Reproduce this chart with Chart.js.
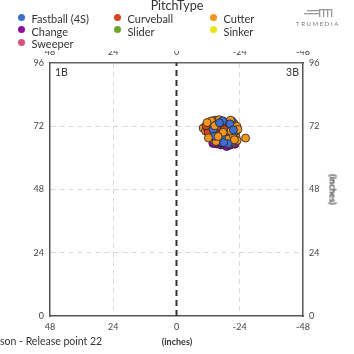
<!DOCTYPE html>
<html>
<head>
<meta charset="utf-8">
<script src="https://cdn.jsdelivr.net/npm/chart.js@4"></script>
<style>
  html, body { margin:0; padding:0; background:#fff; width:354px; height:354px; overflow:hidden; }
  body { position:relative; font-family: Lato, "Open Sans", sans-serif; color:#333; }
  #c { position:absolute; left:0; top:0; }
  .abs { position:absolute; white-space:nowrap; }
  .leg { position:absolute; font-size:11px; line-height:13px; color:#333; white-space:nowrap; }
  .dot { position:absolute; width:7px; height:7px; border-radius:50%; }
</style>
</head>
<body>
<canvas id="c" width="354" height="354"></canvas>
<div id="legend"></div>
<div class="abs" style="left:0;top:-2px;width:354px;text-align:center;font-size:12.5px;line-height:15px;color:#333;">PitchType</div>
<svg class="abs" style="left:304px;top:8px" width="30" height="10" viewBox="0 0 30 10">
  <rect x="3" y="2" width="12" height="1.3" fill="#999"/>
  <rect x="0" y="5" width="15" height="1.3" fill="#999"/>
  <rect x="15" y="1" width="13" height="1.3" fill="#999"/>
  <rect x="15" y="1" width="1.3" height="8" fill="#999"/>
  <rect x="19" y="1" width="1.3" height="8" fill="#999"/>
  <rect x="23" y="1" width="1.3" height="8" fill="#999"/>
  <rect x="27" y="1" width="1.3" height="8" fill="#999"/>
</svg>
<div class="abs" style="left:296px;top:20px;font-size:6px;line-height:8px;letter-spacing:1.6px;color:#777;">TRUMEDIA</div>
<div class="abs" style="left:55px;top:66px;font-size:10.5px;line-height:12px;color:#333;">1B</div>
<div class="abs" style="left:260px;top:66px;width:39px;text-align:right;font-size:10.5px;line-height:12px;color:#333;">3B</div>
<div class="abs" style="left:0px;top:335px;font-size:10.5px;line-height:13px;color:#333;">son - Release point 22</div>
<div class="abs" style="left:127px;top:335px;width:100px;text-align:center;font-size:9px;line-height:13px;font-weight:bold;color:#333;">(inches)</div>
<div class="abs" style="left:283px;top:183px;width:100px;text-align:center;font-size:9px;line-height:13px;font-weight:bold;color:#333;transform:rotate(90deg);transform-origin:50% 50%;">(inches)</div>
<script>
const seriesNames = ["Fastball (4S)", "Curveball", "Cutter", "Change", "Slider", "Sinker", "Sweeper"];
const seriesColors = ["#3d6fd3", "#d9431f", "#f5951e", "#8c0f9c", "#6aa527", "#e9e21c", "#d9507d"];
const xTicks = [48, 24, 0, -24, -48];
const yTicks = [0, 24, 48, 72, 96];
const zeroLine = [[0, 0], [0, 96]];

const fastball = [[-16.8,70.2],[-18.5,71.5],[-20.1,69.8],[-21.3,72.4],[-19.4,73.2],[-17.2,68.4],[-15.9,67.3],[-18.9,66.8],[-20.6,67.9],[-22.1,69.1],[-21.0,74.0],[-17.8,72.8],[-16.1,71.9],[-14.7,69.5],[-19.8,70.9],[-22.4,71.2],[-18.0,69.3],[-20.9,66.2],[-16.6,66.0],[-15.2,72.6],[-13.9,70.8],[-19.2,68.1],[-21.7,67.4],[-17.5,74.1],[-18.3,67.6],[-20.3,72.9],[-14.3,68.2],[-22.8,70.3],[-16.3,73.3],[-19.6,65.4],[-17.9,65.8],[-21.6,70.6]];
const curveball = [[-12.3,71.8],[-13.8,72.9],[-15.1,73.7],[-14.2,71.0],[-12.9,70.1],[-16.4,72.4],[-17.6,73.8],[-15.7,70.6],[-13.4,69.2],[-11.8,70.9],[-14.9,68.9],[-16.9,71.3],[-18.8,72.3],[-13.1,73.9],[-16.0,69.4],[-12.0,69.6],[-17.3,70.0],[-14.6,74.3],[-19.7,73.6],[-15.4,71.9],[-11.2,72.2],[-18.1,70.7]];
const cutter = [[-10.1,71.3],[-26.2,67.5],[-11.0,70.2],[-12.6,68.6],[-13.6,70.4],[-15.5,69.0],[-17.0,71.8],[-18.6,73.5],[-20.0,71.1],[-21.8,73.1],[-22.5,68.1],[-23.0,66.6],[-21.2,65.8],[-19.1,69.6],[-16.7,67.7],[-14.0,67.1],[-12.4,72.6],[-13.3,74.0],[-16.2,74.5],[-20.5,74.3],[-22.9,72.0],[-18.4,68.7],[-17.4,66.6],[-15.0,66.2],[-19.9,67.2],[-21.4,68.7],[-11.6,73.4],[-14.5,72.2],[-23.3,70.8],[-17.7,69.7],[-20.7,70.2],[-12.1,67.6],[-22.0,66.9],[-15.8,68.1]];
const change = [[-15.2,65.3],[-16.8,64.9],[-18.4,65.0],[-19.0,64.3],[-20.3,64.8],[-21.5,65.6],[-17.6,66.3],[-14.6,66.0],[-19.8,66.5],[-16.1,67.0],[-22.2,65.2],[-18.0,67.3],[-13.8,65.5],[-20.9,66.9],[-17.1,65.6],[-15.7,66.6]];
const slider = [];
const sinker = [];
const sweeper = [[-16.0,65.9],[-18.8,65.7]];

const seriesData = [fastball, curveball, cutter, change, slider, sinker, sweeper];

// HTML legend in three columns
const legend = document.getElementById('legend');
const colX = [18, 114, 210];
const rowTop = [12, 24.6, 37.3];
seriesNames.forEach((name, i) => {
  const col = i % 3, row = Math.floor(i / 3);
  const d = document.createElement('div');
  d.className = 'dot';
  d.style.left = colX[col] + 'px';
  d.style.top = (rowTop[row] + 1.8) + 'px';
  d.style.background = seriesColors[i];
  legend.appendChild(d);
  const t = document.createElement('div');
  t.className = 'leg';
  t.style.left = (colX[col] + 13.5) + 'px';
  t.style.top = rowTop[row] + 'px';
  t.textContent = name;
  legend.appendChild(t);
});

// Interleave pitches of all types (like a pitch-by-pitch sequence) into one scatter
const allPts = [], allColors = [];
const maxLen = Math.max(...seriesData.map(s => s.length));
for (let k = 0; k < maxLen; k++) {
  seriesData.forEach((s, i) => {
    if (k < s.length) {
      allPts.push({ x: s[k][0], y: s[k][1] });
      allColors.push(seriesColors[i]);
    }
  });
}

const datasets = [{
  type: 'scatter',
  label: 'Pitches',
  data: allPts,
  backgroundColor: allColors,
  borderColor: 'rgba(40,40,40,0.85)',
  borderWidth: 1,
  pointRadius: 4,
  xAxisID: 'x',
  yAxisID: 'y'
}, {
  type: 'line',
  label: 'zero',
  data: zeroLine.map(p => ({ x: p[0], y: p[1] })),
  borderColor: '#333',
  borderWidth: 2,
  borderDash: [6, 4],
  pointRadius: 0,
  fill: false,
  xAxisID: 'x',
  yAxisID: 'y'
}];

const tickFont = { family: 'Lato', size: 9 };
const gridColorX = ctx => (ctx.tick && (ctx.tick.value === 0 || Math.abs(ctx.tick.value) === 48)) ? 'rgba(0,0,0,0)' : '#d9d9d9';
const gridColorY = ctx => (ctx.tick && (ctx.tick.value === 0 || ctx.tick.value === 96)) ? 'rgba(0,0,0,0)' : '#d9d9d9';
const fixedTicks = vals => (scale) => { scale.ticks = vals.map(v => ({ value: v })); };

new Chart(document.getElementById('c'), {
  data: { datasets },
  options: {
    responsive: false,
    animation: false,
    devicePixelRatio: 1,
    layout: { padding: { top: 51, left: 0, right: 0, bottom: 0 } },
    plugins: { legend: { display: false }, tooltip: { enabled: false } },
    scales: {
      x: {
        type: 'linear', position: 'bottom', min: -48, max: 48, reverse: true,
        afterBuildTicks: fixedTicks(xTicks),
        afterFit: s => { s.height = 38; },
        ticks: { font: tickFont, color: '#444', padding: 6, autoSkip: false, maxRotation: 0 },
        grid: { color: gridColorX, lineWidth: 1, drawTicks: false },
        border: { display: true, color: '#555', width: 1.5, dash: [5, 4] }
      },
      x2: {
        type: 'linear', axis: 'x', position: 'top', min: -48, max: 48, reverse: true,
        afterBuildTicks: fixedTicks(xTicks),
        afterFit: s => { s.height = 12; },
        ticks: { font: tickFont, color: '#444', padding: 6, autoSkip: false, maxRotation: 0 },
        grid: { display: false, drawTicks: false },
        border: { display: true, color: '#666', width: 1.5 }
      },
      y: {
        type: 'linear', position: 'left', min: 0, max: 96,
        afterBuildTicks: fixedTicks(yTicks),
        afterFit: s => { s.width = 50; },
        ticks: { font: tickFont, color: '#444', padding: 6, autoSkip: false },
        grid: { color: gridColorY, lineWidth: 1, drawTicks: false },
        border: { display: true, color: '#555', width: 1.5, dash: [5, 4] }
      },
      y2: {
        type: 'linear', axis: 'y', position: 'right', min: 0, max: 96,
        afterBuildTicks: fixedTicks(yTicks),
        afterFit: s => { s.width = 51; },
        ticks: { font: tickFont, color: '#444', padding: 6, autoSkip: false },
        grid: { display: false, drawTicks: false },
        border: { display: true, color: '#555', width: 1.5 }
      }
    }
  }
});
</script>
</body>
</html>
